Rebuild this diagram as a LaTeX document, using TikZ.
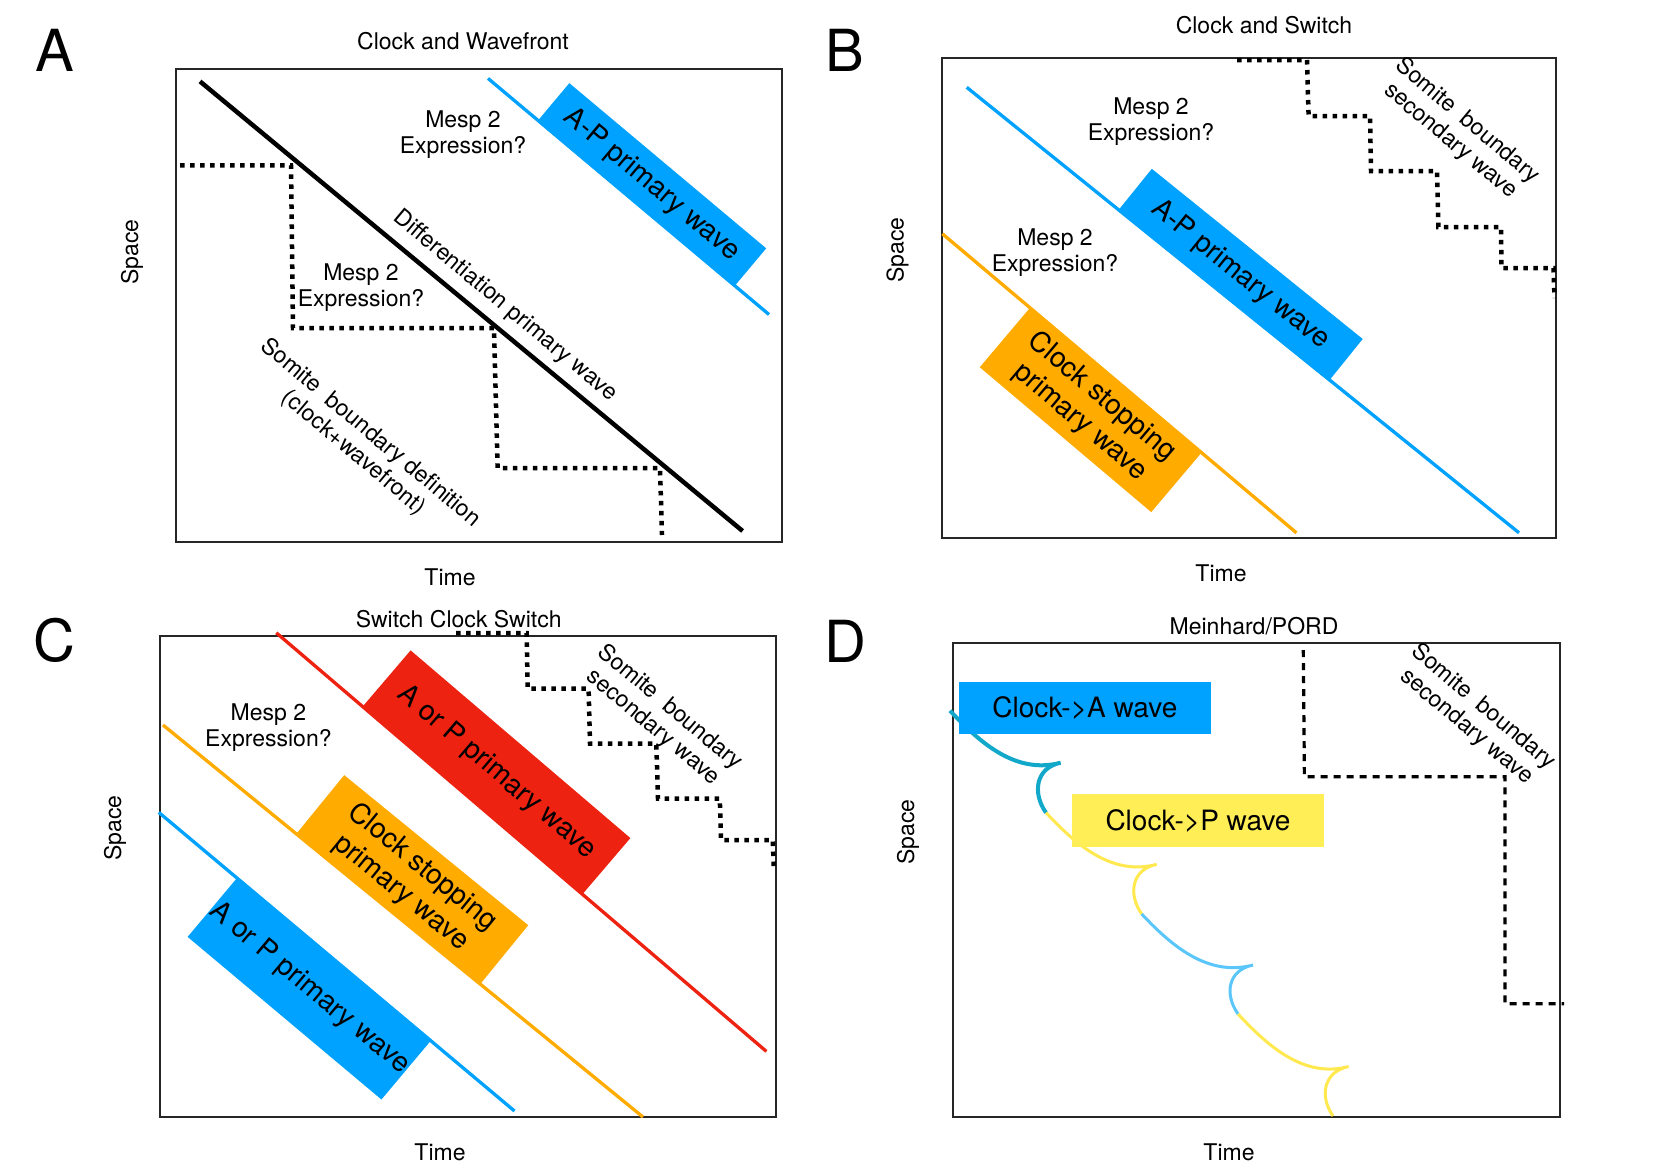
\documentclass[tikz,border=0pt]{standalone}
\usepackage{fontspec}
\setmainfont{TeX Gyre Heros}
\definecolor{wblue}{HTML}{00A2FF}
\definecolor{wred}{HTML}{EE2210}
\definecolor{worange}{HTML}{FFAB00}
\definecolor{wyellow}{HTML}{FFEE55}
\definecolor{cteal}{HTML}{12A8CA}
\definecolor{clight}{HTML}{5AC6FA}
\definecolor{cyellow}{HTML}{FFE94F}
\tikzset{
  lbl/.style={font=\fontsize{23}{26}\selectfont, inner sep=0pt, align=center},
  ttl/.style={font=\fontsize{23}{26}\selectfont, inner sep=0pt, anchor=base},
  letter/.style={font=\fontsize{58}{60}\selectfont, inner sep=0pt},
  wbox/.style={font=\fontsize{28}{33}\selectfont, inner sep=0pt, align=center},
  frame/.style={draw=black!85, line width=2pt},
  primline/.style={line width=3.3pt},
  dotline/.style={line width=4.5pt, dash pattern=on 4.5pt off 5.5pt},
  dashline/.style={line width=3.2pt, dash pattern=on 7pt off 6pt},
}
\begin{document}
\begin{tikzpicture}[x=1pt,y=-1pt]
\fill[white] (0,0) rectangle (1661,1163);
\useasboundingbox (0,0) rectangle (1661,1163);

% ---------------- Panel A ----------------
\node[letter] (letA) at (55,50) {A};
\node[ttl] (titA) at (463,49) {Clock and Wavefront};
\draw[frame] (176,68.5) rectangle (782,542);
\node[lbl, rotate=90] (spA) at (132,252) {Space};
\node[ttl] (timeA) at (450,585) {Time};
\draw[line width=4.5pt] (200,81.4) -- (742.6,531);
\draw[wblue, primline] (488,78.4) -- (769,314.5);
\node[wbox, fill=wblue, minimum width=257pt, minimum height=50pt, rotate=-40] (rA) at (651.7,184.9) {A-P primary wave};
\draw[dotline] (180,165.4) -- (291,165.4) -- (293,328) -- (494,328) -- (497.6,468) -- (660,468) -- (662,535);
\node[lbl] (mA1) at (463,135) {Mesp 2\\Expression?};
\node[lbl] (mA2) at (361,288) {Mesp 2\\Expression?};
\node[lbl, rotate=-40] (dA) at (505,306) {Differentiation primary wave};
\node[lbl, rotate=-40] (sA) at (362,443) {Somite~ boundary definition\\(clock+wavefront)};

% ---------------- Panel B ----------------
\node[letter] (letB) at (845,50) {B};
\node[ttl] (titB) at (1264,33) {Clock and Switch};
\draw[frame] (942.4,58) rectangle (1556,537.6);
\node[lbl, rotate=90] (spB) at (897.5,250) {Space};
\node[ttl] (timeB) at (1221,581) {Time};
\draw[wblue, primline] (966.7,87.3) -- (1519,532.8);
\draw[worange, primline] (942.4,233.8) -- (1296.4,532.8);
\node[wbox, fill=wblue, minimum width=271pt, minimum height=54pt, rotate=-38.9] (rB1) at (1240.3,274.9) {A-P primary wave};
\node[wbox, fill=worange, minimum width=224.5pt, minimum height=79pt, rotate=-40.2] (rB2) at (1091,409.5) {Clock stopping\\primary wave};
\draw[dotline] (1237,60) -- (1307,60) -- (1308.6,116) -- (1370,116) -- (1371,171) -- (1437,171) -- (1438.4,227) -- (1501,227) -- (1501.5,268) -- (1553.5,268) -- (1554.5,298);
\node[lbl] (mB1) at (1151,122) {Mesp 2\\Expression?};
\node[lbl] (mB2) at (1055,253) {Mesp 2\\Expression?};
\node[lbl, rotate=-40] (sB) at (1459,131) {Somite~ boundary\\secondary wave};

% ---------------- Panel C ----------------
\node[letter] (letC) at (54,640) {C};
\node[ttl] (titC) at (458.7,627) {Switch Clock Switch};
\draw[frame] (159.8,635.8) rectangle (776,1117);
\node[lbl, rotate=90] (spC) at (115,828) {Space};
\node[ttl] (timeC) at (440,1160) {Time};
\draw[wred, primline] (276.3,632.8) -- (766.4,1051.4);
\draw[worange, primline] (163,725) -- (643,1117);
\draw[wblue, primline] (158.8,812.4) -- (514.5,1111);
\node[wbox, fill=wred, minimum width=289pt, minimum height=73.6pt, rotate=-40.5] (rC1) at (496.6,772.2) {A or P primary wave};
\node[wbox, fill=worange, minimum width=237.5pt, minimum height=77pt, rotate=-39.2] (rC2) at (411.9,880) {Clock stopping\\primary wave};
\node[wbox, fill=wblue, minimum width=253pt, minimum height=78pt, rotate=-40] (rC3) at (309.6,988.3) {A or P primary wave};
\draw[dotline] (456,633) -- (526.6,633) -- (527.7,688.6) -- (588.6,688.6) -- (590,743.6) -- (656.3,743.6) -- (658,798.6) -- (719.8,798.6) -- (721,840) -- (772.8,840) -- (773.8,870);
\node[lbl] (mC) at (268.4,728) {Mesp 2\\Expression?};
\node[lbl, rotate=-40] (sC) at (661.6,717.5) {Somite~ boundary\\secondary wave};

% ---------------- Panel D ----------------
\node[letter] (letD) at (845,641) {D};
\node[ttl] (titD) at (1254,634) {Meinhard/PORD};
\draw[frame] (953,642.5) rectangle (1560.3,1117);
\node[lbl, rotate=90] (spD) at (908,832) {Space};
\node[ttl] (timeD) at (1229,1160) {Time};
\draw[dashline] (1303.3,650) -- (1304.4,776.7) -- (1505,776.7) -- (1505,1003.8) -- (1564,1003.8);
\draw[cteal, line width=4pt] (950,710.7) .. controls (980,742.7) and (1015.7,774.7) .. (1060.7,762.7)
  .. controls (1035.7,767.7) and (1032,792.7) .. (1046,812.7);
\draw[cyellow, line width=3pt] (1046,812.7) .. controls (1076,844.7) and (1111.7,876.3) .. (1156.7,864.3)
  .. controls (1131.7,869.3) and (1127.7,894) .. (1141.7,914);
\draw[clight, line width=3pt] (1141.7,914) .. controls (1171.7,946) and (1208,977) .. (1253,965)
  .. controls (1228,970) and (1224,994) .. (1238,1014);
\draw[cyellow, line width=3pt] (1238,1014) .. controls (1268,1046) and (1303.7,1078.5) .. (1348.7,1066.5)
  .. controls (1323.7,1071.5) and (1319,1096) .. (1333,1116);
\node[wbox, fill=wblue, minimum width=251.7pt, minimum height=52.3pt] (bA) at (1084.9,707.9) {Clock->A wave};
\node[wbox, fill=wyellow, minimum width=252pt, minimum height=52.4pt] (bP) at (1198,820.5) {Clock->P wave};
\node[lbl, rotate=-40] (sD) at (1475,717) {Somite~ boundary\\secondary wave};
\end{tikzpicture}
\end{document}
